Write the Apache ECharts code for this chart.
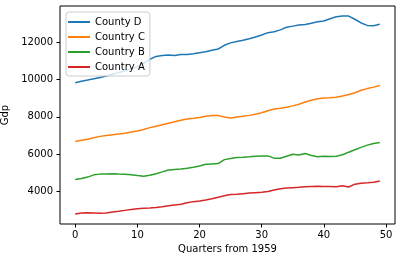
<!DOCTYPE html>
<html>
<head>
<meta charset="utf-8">
<script src="https://cdn.jsdelivr.net/npm/echarts@6/dist/echarts.min.js"></script>
<style>html,body{margin:0;padding:0;background:#fff}#c{width:401px;height:262px}</style>
</head>
<body>
<div id="c"></div>
<script>
const quarters = Array.from({length: 50}, (_, i) => i);
const seriesNames = ["County D", "Country C", "Country B", "Country A"];
const countyD = [9840, 9920, 9980, 10050, 10120, 10200, 10290, 10380, 10480, 10580,
  10700, 10880, 11100, 11250, 11300, 11330, 11300, 11350, 11360, 11400,
  11450, 11500, 11580, 11650, 11850, 11980, 12050, 12120, 12200, 12300,
  12400, 12530, 12580, 12680, 12820, 12880, 12940, 12970, 13040, 13110,
  13160, 13280, 13380, 13430, 13420, 13250, 13050, 12920, 12900, 12980];
const countryC = [6680, 6740, 6800, 6880, 6950, 7000, 7040, 7080, 7120, 7180,
  7240, 7320, 7420, 7500, 7580, 7660, 7740, 7820, 7880, 7920,
  7970, 8030, 8070, 8070, 7990, 7940, 7990, 8030, 8080, 8140,
  8220, 8330, 8420, 8460, 8520, 8590, 8680, 8800, 8890, 8970,
  9020, 9030, 9050, 9120, 9200, 9300, 9430, 9520, 9600, 9690];
const countryB = [4630, 4680, 4760, 4880, 4920, 4920, 4940, 4920, 4910, 4890,
  4840, 4810, 4860, 4940, 5040, 5140, 5170, 5190, 5230, 5290,
  5360, 5450, 5470, 5490, 5700, 5760, 5820, 5830, 5850, 5880,
  5900, 5900, 5780, 5770, 5880, 5990, 5950, 6030, 5920, 5860,
  5880, 5870, 5880, 5960, 6100, 6230, 6360, 6480, 6570, 6620];
const countryA = [2770, 2830, 2840, 2830, 2810, 2830, 2880, 2920, 2970, 3020,
  3060, 3090, 3100, 3130, 3170, 3220, 3260, 3300, 3380, 3440,
  3470, 3530, 3600, 3680, 3760, 3820, 3840, 3870, 3900, 3920,
  3940, 3990, 4060, 4130, 4170, 4190, 4210, 4240, 4260, 4270,
  4260, 4250, 4240, 4290, 4230, 4380, 4430, 4450, 4480, 4550];
const xTicks = [0, 10, 20, 30, 40, 50];
const yTicks = [4000, 6000, 8000, 10000, 12000];
const colors = ["#1f77b4", "#ff7f0e", "#2ca02c", "#d62728"];

const allVals = [countyD, countryC, countryB, countryA];
const font = "DejaVu Sans";
const chart = echarts.init(document.getElementById('c'), null, {renderer: 'canvas'});
chart.setOption({
  animation: false,
  textStyle: {fontFamily: font},
  grid: {left: 60, right: 6, top: 6, bottom: 38, containLabel: false, outerBoundsMode: 'none',
    show: true, borderColor: '#000', borderWidth: 1, backgroundColor: 'transparent'},
  legend: {
    orient: 'vertical', left: 66, top: 12,
    data: seriesNames,
    icon: 'rect', itemWidth: 22, itemHeight: 2, itemGap: 3, itemTextGap: 7,
    padding: [4, 5, 3, 2],
    textStyle: {fontFamily: font, fontSize: 10, color: '#000', lineHeight: 12},
    backgroundColor: 'rgba(255,255,255,0.8)', borderColor: '#ccc', borderWidth: 1, borderRadius: 3
  },
  xAxis: {
    type: 'value', min: -2.45, max: 51.45,
    name: 'Quarters from 1959', nameLocation: 'middle', nameGap: 20,
    nameTextStyle: {fontFamily: font, fontSize: 10, color: '#000'},
    axisLine: {show: false, onZero: false},
    splitLine: {show: false},
    axisTick: {show: true, inside: false, length: 3.5, customValues: xTicks, lineStyle: {color: '#000'}},
    axisLabel: {customValues: xTicks, margin: 6, fontFamily: font, fontSize: 10, color: '#000',
      formatter: v => String(v)}
  },
  yAxis: {
    type: 'value', min: 2237, max: 13963,
    name: 'Gdp', nameLocation: 'middle', nameGap: 40, nameRotate: 90,
    nameTextStyle: {fontFamily: font, fontSize: 10, color: '#000'},
    axisLine: {show: false, onZero: false},
    splitLine: {show: false},
    axisTick: {show: true, inside: false, length: 3.5, customValues: yTicks, lineStyle: {color: '#000'}},
    axisLabel: {customValues: yTicks, margin: 7, fontFamily: font, fontSize: 10, color: '#000',
      formatter: v => String(v)}
  },
  series: seriesNames.map((n, k) => ({
    name: n, type: 'line', showSymbol: false, symbol: 'none',
    color: colors[k],
    lineStyle: {width: 1.5, color: colors[k]},
    data: quarters.map((q, i) => [q, allVals[k][i]]),
    z: 2
  }))
});
</script>
</body>
</html>
